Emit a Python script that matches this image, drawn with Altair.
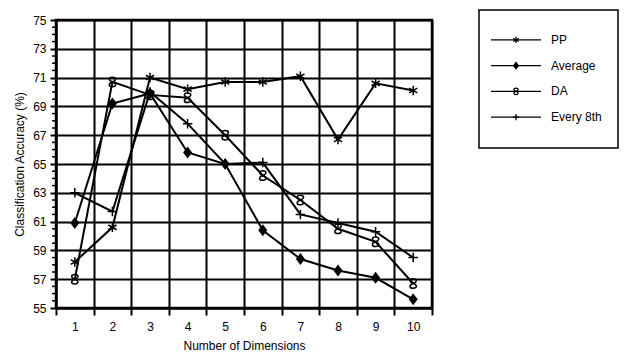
import altair as alt
import pandas as pd

# ---- data ----
dims = [1, 2, 3, 4, 5, 6, 7, 8, 9, 10]
series = ["PP", "Average", "DA", "Every 8th"]
pp = [58.2, 60.6, 71.0, 70.2, 70.7, 70.7, 71.1, 66.7, 70.6, 70.1]
average = [60.9, 69.2, 69.9, 65.8, 65.0, 60.4, 58.4, 57.6, 57.1, 55.6]
da = [57.0, 70.7, 69.8, 69.6, 67.0, 64.2, 62.5, 60.5, 59.6, 56.7]
every8 = [63.0, 61.7, 70.0, 67.8, 65.0, 65.1, 61.5, 60.9, 60.3, 58.5]
y_major = [55, 57, 59, 61, 63, 65, 67, 69, 71, 73, 75]
y_minor = [v + d for v in y_major[:-1] for d in (0.5, 1.0, 1.5)]

FONT = "Liberation Sans"
Y_TITLE = "Classification Accuracy (%)"

rows = []
for name, vals in zip(series, [pp, average, da, every8]):
    for d, v in zip(dims, vals):
        rows.append({"dim": d, "acc": v, "series": name})
df = pd.DataFrame(rows)
minor_df = pd.DataFrame({"v": y_minor})
leg_df = pd.DataFrame({"series": series})
box_df = pd.DataFrame({"k": [0]})

shape_paths = [
    "M0,-1L0,1M-0.87,-0.5L0.87,0.5M-0.87,0.5L0.87,-0.5",
    "M0,-1L0.75,0L0,1L-0.75,0Z",
    "M0,0C0.9,-0.3 0.9,-1 0,-1C-0.9,-1 -0.9,-0.3 0,0C0.9,0.3 0.9,1 0,1C-0.9,1 -0.9,0.3 0,0Z",
    "M-1,0L1,0M0,-1L0,1",
]
shape_scale = alt.Scale(domain=series, range=shape_paths)
fill_cond = alt.condition("datum.series === 'Average'", alt.value("black"), alt.value("transparent"))
y_scale = alt.Scale(domain=[55, 75], nice=False, zero=False)

x_enc = alt.X(
    "dim:O",
    title="Number of Dimensions",
    scale=alt.Scale(type="band", paddingInner=0, paddingOuter=0),
    axis=alt.Axis(
        tickBand="extent", labelAngle=0, grid=True, gridColor="black", gridWidth=2,
        gridOpacity=1, tickSize=7, tickWidth=2, tickColor="black", domainColor="black",
        domainWidth=2, labelFont=FONT, labelFontSize=12, labelColor="black",
        labelPadding=6, titleFont=FONT, titleFontSize=12, titleFontWeight="normal",
        titleColor="black", titlePadding=8,
    ),
)
y_axis = alt.Axis(
    values=y_major, tickCount=40, format="d", labelOverlap=False, grid=True,
    gridColor="black", gridWidth=2, gridOpacity=1, tickSize=6, tickWidth=2,
    tickColor="black", domainColor="black", domainWidth=2, labelFont=FONT,
    labelFontSize=12, labelColor="black", labelPadding=4, titleFont=FONT,
    titleFontSize=12, titleFontWeight="normal", titleColor="black", titlePadding=6,
)
y_enc = alt.Y("acc:Q", title=Y_TITLE, scale=y_scale, axis=y_axis)

lines = alt.Chart(df).mark_line(color="black", strokeWidth=2).encode(
    x=x_enc, y=y_enc, detail="series:N"
)
points = alt.Chart(df).mark_point(size=90, stroke="black", strokeWidth=1.5, opacity=1).encode(
    x=x_enc, y=y_enc,
    shape=alt.Shape("series:N", scale=shape_scale, legend=None),
    fill=fill_cond,
)
minor = alt.Chart(minor_df).mark_rule(color="black", strokeWidth=1.5).encode(
    y=alt.Y("v:Q", title=Y_TITLE, scale=y_scale, axis=y_axis),
    x=alt.value(0), x2=alt.value(-4),
)
main = alt.layer(lines, points, minor)

ly = alt.Y("series:N", sort=series,
           scale=alt.Scale(domain=series, range=[7, 110], padding=0), axis=None)
box = alt.Chart(box_df).mark_rect(fillOpacity=0, stroke="black", strokeWidth=1.5).encode(
    x=alt.value(423), x2=alt.value(562), y=alt.value(-10), y2=alt.value(128)
)
leg_rule = alt.Chart(leg_df).mark_rule(color="black", strokeWidth=1.3).encode(
    y=ly, x=alt.value(435), x2=alt.value(485)
)
leg_pt = alt.Chart(leg_df).mark_point(size=40, stroke="black", strokeWidth=1.3, opacity=1).encode(
    y=ly, x=alt.value(460),
    shape=alt.Shape("series:N", scale=shape_scale, legend=None),
    fill=fill_cond,
)
leg_txt = alt.Chart(leg_df).mark_text(
    align="left", baseline="middle", font=FONT, fontSize=12, color="black"
).encode(y=ly, x=alt.value(495), text="series:N")
legend = alt.layer(box, leg_rule, leg_pt, leg_txt)

chart = (
    alt.layer(main, legend)
    .resolve_scale(y="independent")
    .properties(width=376, height=288,
                padding={"left": 5, "top": 1, "right": 0, "bottom": 0})
    .configure_view(stroke="black", strokeWidth=2.5)
)

chart.save("out.html", embed_options={"renderer": "svg", "actions": False})
